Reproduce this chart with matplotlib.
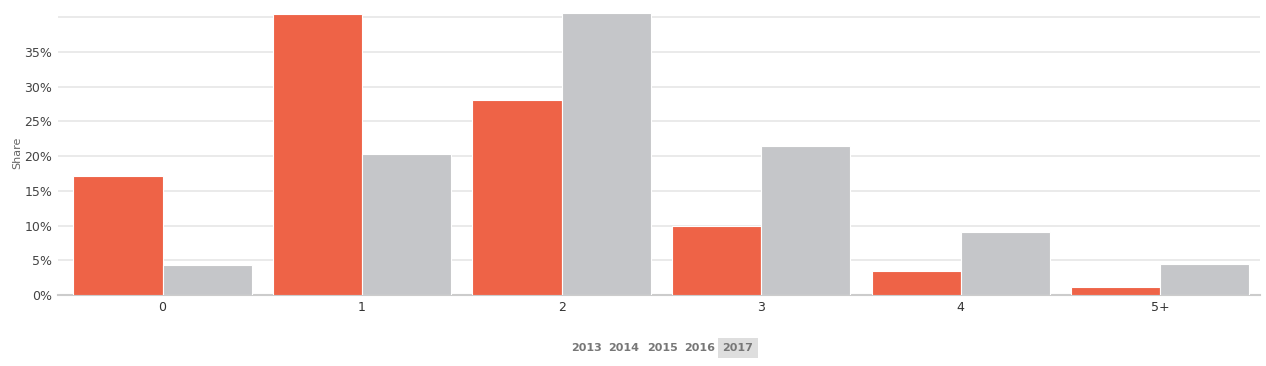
import matplotlib.pyplot as plt
import numpy as np

categories = ['0', '1', '2', '3', '4', '5+']
share_red = [17.1, 40.5, 28.1, 9.9, 3.5, 1.2]
share_gray = [4.3, 20.3, 40.6, 21.5, 9.1, 4.5]
yticks = [0, 5, 10, 15, 20, 25, 30, 35, 40]
years = ['2013', '2014', '2015', '2016', '2017']

RED = '#ee6347'
GRAY = '#c5c6c9'

fig = plt.figure(figsize=(12.66, 3.66), dpi=100)
ax = fig.add_axes([58 / 1266, 1 - 295 / 366, 1202 / 1266, 285 / 366])

x = np.arange(len(categories))
w = 0.447
ax.bar(x - w / 2, share_red, width=w, color=RED, edgecolor='white', linewidth=0.8, zorder=3)
ax.bar(x + w / 2, share_gray, width=w, color=GRAY, edgecolor='white', linewidth=0.8, zorder=3)

ax.set_xlim(-0.524, len(categories) - 0.5)
ax.set_ylim(0, 41.05)
ax.set_yticks(yticks)
ax.set_yticklabels([f'{t}%' if t < 40 else '' for t in yticks], fontsize=9, color='#444444')
ax.set_xticks(x)
ax.set_xticklabels(categories, fontsize=9, color='#333333')
ax.tick_params(axis='both', length=0, pad=4)
ax.grid(axis='y', color='#e6e6e6', linewidth=1.2, zorder=0)
for s in ['top', 'right', 'left']:
    ax.spines[s].set_visible(False)
ax.spines['bottom'].set_color('#cccccc')
ax.spines['bottom'].set_linewidth(1.5)
ax.set_ylabel('Share', fontsize=8, color='#666666', labelpad=2)

# year selector
xs = [586, 624, 662, 700, 738]
for xp, yr in zip(xs, years):
    kw = {}
    if yr == '2017':
        kw['bbox'] = dict(boxstyle='square,pad=0.45', facecolor='#dedede', edgecolor='none')
    fig.text(xp / 1266, 1 - 348 / 366, yr, fontsize=8, color='#777777',
             fontweight='bold', ha='center', va='center', **kw)

fig.savefig('out.png', dpi=100)
